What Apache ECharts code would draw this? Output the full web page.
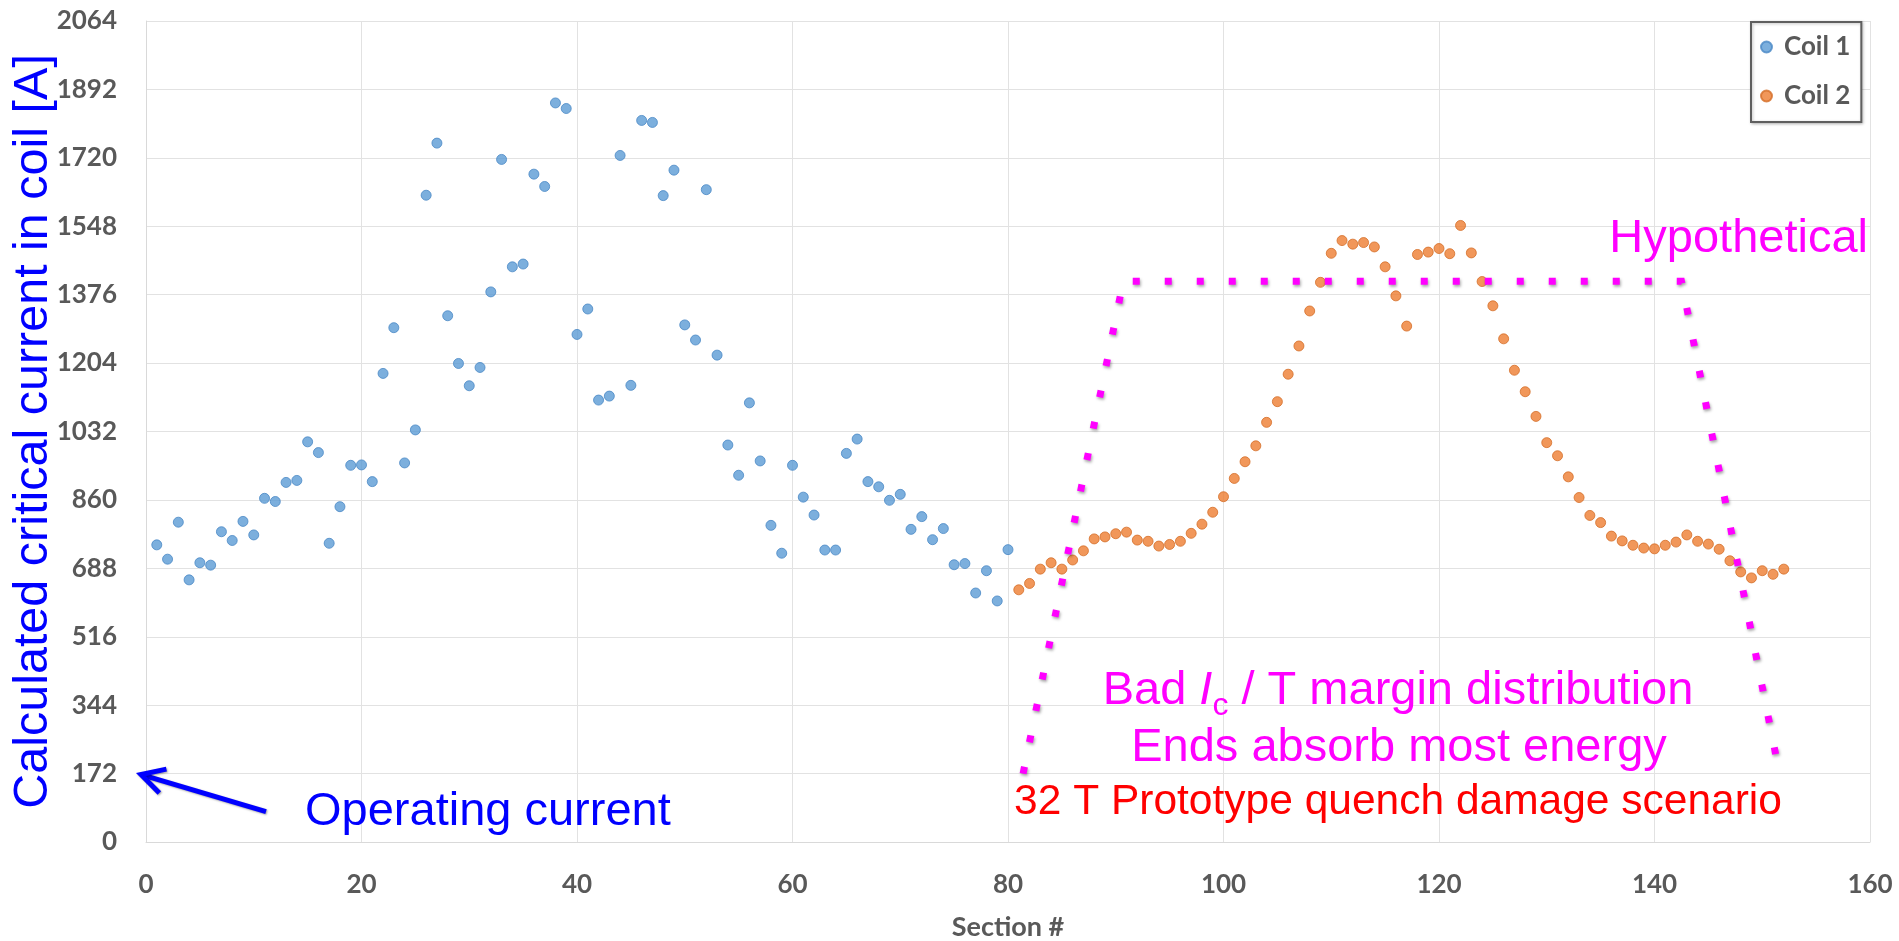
<!DOCTYPE html>
<html>
<head>
<meta charset="utf-8">
<title>Calculated critical current per section</title>
<script src="https://cdn.jsdelivr.net/npm/echarts@6/dist/echarts.min.js"></script>
<style>
  html, body { margin: 0; padding: 0; background: #ffffff; }
  #chart { width: 1899px; height: 941px; }
</style>
</head>
<body>
<div id="chart"></div>
<script>
// ---- Data -------------------------------------------------------------
const coil1Sections = [
  1, 2, 3, 4, 5, 6, 7, 8, 9, 10, 11, 12, 13, 14, 15, 16, 17, 18, 19, 20,
  21, 22, 23, 24, 25, 26, 27, 28, 29, 30, 31, 32, 33, 34, 35, 36, 37, 38, 39, 40,
  41, 42, 43, 44, 45, 46, 47, 48, 49, 50, 51, 52, 53, 54, 55, 56, 57, 58, 59, 60,
  61, 62, 63, 64, 65, 66, 67, 68, 69, 70, 71, 72, 73, 74, 75, 76, 77, 78, 79, 80
];
const coil1Current = [
  747, 711, 804, 659, 702, 696, 780, 758, 806, 772, 864, 856, 904, 909, 1006, 979, 751, 843, 947, 948,
  906, 1178, 1293, 953, 1036, 1626, 1757, 1323, 1203, 1147, 1193, 1383, 1716, 1446, 1453, 1679, 1648, 1858, 1844, 1276,
  1340, 1111, 1121, 1726, 1148, 1814, 1809, 1625, 1689, 1300, 1262, 1640, 1224, 998, 922, 1104, 958, 796, 726, 947,
  867, 822, 734, 734, 977, 1013, 906, 893, 859, 874, 786, 818, 760, 788, 697, 700, 626, 682, 606, 735
];
const coil2Sections = [
  81, 82, 83, 84, 85, 86, 87, 88, 89, 90, 91, 92, 93, 94, 95, 96, 97, 98, 99, 100,
  101, 102, 103, 104, 105, 106, 107, 108, 109, 110, 111, 112, 113, 114, 115, 116, 117, 118, 119, 120,
  121, 122, 123, 124, 125, 126, 127, 128, 129, 130, 131, 132, 133, 134, 135, 136, 137, 138, 139, 140,
  141, 142, 143, 144, 145, 146, 147, 148, 149, 150, 151, 152
];
const coil2Current = [
  634, 650, 686, 702, 686, 709, 732, 762, 767, 775, 779, 759, 756, 744, 748, 756, 776, 799, 829, 868,
  914, 956, 996, 1055, 1107, 1176, 1247, 1335, 1407, 1480, 1512, 1503, 1507, 1496, 1446, 1373, 1297, 1477, 1483, 1492,
  1479, 1550, 1481, 1409, 1348, 1265, 1186, 1132, 1070, 1004, 971, 918, 866, 821, 803, 769, 757, 746, 739, 737,
  746, 754, 772, 756, 749, 736, 707, 679, 664, 682, 673, 686
];

// Hypothetical flat-top profile (section #, current)
const hypoSections = [81.4, 90.7, 142.5, 151.6];
const hypoCurrent  = [172, 1410, 1410, 172];

const operatingCurrent = 172;

const xTicks = { min: 0, max: 160, step: 20 };
const yTicks = { min: 0, max: 2064, step: 172 };

// ---- Styles -----------------------------------------------------------
const axisFont = { fontFamily: 'Lato, "Open Sans", sans-serif', fontWeight: 'bold', color: '#595959' };
const arialish = '"Liberation Sans", Arial, sans-serif';
const MAGENTA = '#FF00FF';
const BLUE = '#0000FF';

const chart = echarts.init(document.getElementById('chart'), null, { renderer: 'canvas' });

chart.setOption({
  animation: false,
  backgroundColor: '#ffffff',
  grid: { left: 146, right: 29, top: 21, bottom: 99, containLabel: false, outerBoundsMode: 'none' },
  legend: {
    data: ['Coil 1', 'Coil 2'],
    orient: 'vertical',
    left: 1751,
    top: 22,
    padding: [12, 11, 13, 9],
    itemGap: 23,
    itemWidth: 25,
    itemHeight: 11,
    backgroundColor: '#ffffff',
    borderColor: '#5f5f5f',
    borderWidth: 2,
    shadowColor: 'rgba(0,0,0,0.25)',
    shadowBlur: 3,
    shadowOffsetX: 1,
    shadowOffsetY: 1,
    textStyle: Object.assign({ fontSize: 26, lineHeight: 26 }, axisFont)
  },
  xAxis: {
    type: 'value',
    min: xTicks.min,
    max: xTicks.max,
    interval: xTicks.step,
    name: 'Section #',
    nameLocation: 'middle',
    nameGap: 72,
    nameMoveOverlap: false,
    nameTextStyle: Object.assign({ fontSize: 27, lineHeight: 27 }, axisFont),
    axisLine: { show: true, lineStyle: { color: '#D9D9D9', width: 1 } },
    axisTick: { show: false },
    axisLabel: Object.assign({ margin: 30, fontSize: 26, lineHeight: 26, formatter: v => String(v) }, axisFont),
    splitLine: { show: true, lineStyle: { color: '#E2E2E2', width: 1 } }
  },
  yAxis: {
    type: 'value',
    min: yTicks.min,
    max: yTicks.max,
    interval: yTicks.step,
    name: 'Calculated critical current in coil [A]',
    nameLocation: 'middle',
    nameGap: 88,
    nameMoveOverlap: false,
    nameTextStyle: { fontFamily: arialish, fontSize: 48.5, color: BLUE },
    axisLine: { show: true, lineStyle: { color: '#D9D9D9', width: 1 } },
    axisTick: { show: false },
    axisLabel: Object.assign({ margin: 29, fontSize: 26, formatter: v => String(v) }, axisFont),
    splitLine: { show: true, lineStyle: { color: '#E2E2E2', width: 1 } }
  },
  series: [
    {
      type: 'scatter',
      name: 'Coil 1',
      data: coil1Sections.map((s, i) => [s, coil1Current[i]]),
      symbol: 'circle',
      symbolSize: 10,
      itemStyle: { color: '#5B9BD5', borderColor: '#4A88C6', borderWidth: 1 },
      z: 3
    },
    {
      type: 'scatter',
      name: 'Coil 2',
      data: coil2Sections.map((s, i) => [s, coil2Current[i]]),
      symbol: 'circle',
      symbolSize: 10,
      itemStyle: { color: '#ED7D31', borderColor: '#D56E28', borderWidth: 1 },
      z: 3
    },
    {
      type: 'line',
      name: 'Hypothetical',
      data: hypoSections.map((s, i) => [s, hypoCurrent[i]]),
      symbol: 'none',
      silent: true,
      lineStyle: {
        color: MAGENTA,
        width: 7,
        type: [7, 25],
        cap: 'butt',
        join: 'miter',
        shadowColor: 'rgba(0,0,0,0.35)',
        shadowBlur: 3,
        shadowOffsetX: 1,
        shadowOffsetY: 2
      },
      z: 4
    }
  ]
});

// ---- Annotations ------------------------------------------------------
const tip = chart.convertToPixel({ gridIndex: 0 }, [0, operatingCurrent]);
const tipX = tip[0] - 5, tipY = tip[1] + 1;
const tailX = tipX + 125, tailY = tipY + 37;
const ang = Math.atan2(tailY - tipY, tailX - tipX);
const barbLen = 26, barbSpread = 0.5;
const barbA = [tipX + barbLen * Math.cos(ang - barbSpread), tipY + barbLen * Math.sin(ang - barbSpread)];
const barbB = [tipX + barbLen * Math.cos(ang + barbSpread), tipY + barbLen * Math.sin(ang + barbSpread)];
const arrowShadow = { shadowColor: 'rgba(0,0,0,0.35)', shadowBlur: 2, shadowOffsetX: 1, shadowOffsetY: 1 };

chart.setOption({
  graphic: [
    {
      type: 'line', silent: true, z: 10,
      shape: { x1: tipX + 2, y1: tipY + 0.6, x2: tailX, y2: tailY },
      style: Object.assign({ stroke: BLUE, lineWidth: 5 }, arrowShadow)
    },
    {
      type: 'polyline', silent: true, z: 10,
      shape: { points: [barbA, [tipX, tipY], barbB] },
      style: Object.assign({ stroke: BLUE, lineWidth: 5, fill: null, lineJoin: 'miter' }, arrowShadow)
    },
    {
      type: 'text', silent: true, z: 10,
      x: 305, y: 812,
      style: { text: 'Operating current', fill: BLUE, font: '47px ' + arialish, align: 'left', verticalAlign: 'middle' }
    },
    {
      type: 'text', silent: true, z: 10,
      x: 1868, y: 239,
      style: { text: 'Hypothetical', fill: MAGENTA, font: '47px ' + arialish, align: 'right', verticalAlign: 'middle' }
    },
    {
      type: 'text', silent: true, z: 10,
      x: 1398, y: 691,
      style: {
        text: '{n|Bad }{i|I}{s|c}{n| / T margin distribution}',
        align: 'center', verticalAlign: 'middle',
        rich: {
          n: { fontFamily: arialish, fontSize: 47, fill: MAGENTA, lineHeight: 62, verticalAlign: 'middle' },
          i: { fontFamily: arialish, fontSize: 47, fontStyle: 'italic', fill: MAGENTA, lineHeight: 62, verticalAlign: 'middle' },
          s: { fontFamily: arialish, fontSize: 32, fill: MAGENTA, lineHeight: 30, verticalAlign: 'bottom' }
        }
      }
    },
    {
      type: 'text', silent: true, z: 10,
      x: 1399, y: 748,
      style: { text: 'Ends absorb most energy', fill: MAGENTA, font: '47px ' + arialish, align: 'center', verticalAlign: 'middle' }
    },
    {
      type: 'text', silent: true, z: 10,
      x: 1398, y: 802,
      style: { text: '32 T Prototype quench damage scenario', fill: '#FF0000', font: '42.5px ' + arialish, align: 'center', verticalAlign: 'middle' }
    }
  ]
});
</script>
</body>
</html>
